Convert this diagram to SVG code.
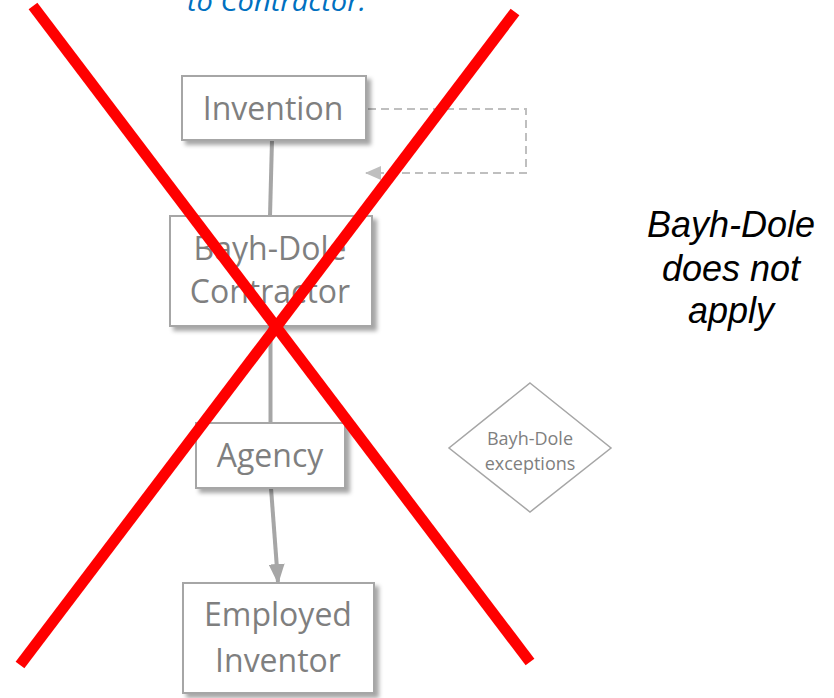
<svg xmlns="http://www.w3.org/2000/svg" width="834" height="698" viewBox="0 0 834 698">
<style>
.box{fill:#fff;stroke:#a6a6a6;stroke-width:2;filter:url(#sh)}
.nt{font-family:"Open Sans","Liberation Sans",sans-serif;font-size:32px;fill:#7f7f7f;text-anchor:middle}
.st{font-family:"Open Sans","Liberation Sans",sans-serif;font-size:18px;fill:#7f7f7f;text-anchor:middle}
.conn{stroke:#a6a6a6;stroke-width:4;fill:none}
.dash{stroke:#bfbfbf;stroke-width:2;fill:none;stroke-dasharray:8 5}
.x{stroke:#ff0000;stroke-width:11;stroke-linecap:butt}
</style>
<defs>
<filter id="sh" x="-20%" y="-20%" width="150%" height="150%">
<feDropShadow dx="4" dy="4" stdDeviation="2" flood-color="#000" flood-opacity="0.35"/>
</filter>
<marker id="ah" markerWidth="5" markerHeight="4" refX="4.5" refY="2" orient="auto" markerUnits="strokeWidth">
<path d="M0,0 L5,2 L0,4 Z" fill="#a6a6a6"/>
</marker>
<marker id="ahd" markerWidth="8" markerHeight="7" refX="7.5" refY="3.5" orient="auto" markerUnits="strokeWidth">
<path d="M0,0 L8,3.5 L0,7 Z" fill="#bfbfbf"/>
</marker>
</defs>
<rect width="834" height="698" fill="#fff"/>
<text x="187" y="11" font-family="'Open Sans','Liberation Sans',sans-serif" font-style="italic" font-size="28" fill="#0070c0" textLength="179" lengthAdjust="spacingAndGlyphs">to Contractor.</text>
<g id="connectors">
<line class="conn" x1="272" y1="140" x2="270" y2="216"/>
<line class="conn" x1="270.5" y1="326" x2="270.5" y2="423"/>
<line class="conn" x1="271" y1="488" x2="278" y2="582" marker-end="url(#ah)"/>
<polyline class="dash" points="368,109 526,109 526,173 366,173" marker-end="url(#ahd)"/>
</g>
<g id="invention">
<rect class="box" x="182" y="76" width="184" height="64"/>
<text class="nt" x="273" y="120">Invention</text>
</g>
<g id="contractor">
<rect class="box" x="170" y="216" width="202" height="110"/>
<text class="nt" x="270" y="260">Bayh-Dole</text>
<text class="nt" x="270" y="303">Contractor</text>
</g>
<g id="agency">
<rect class="box" x="196" y="423" width="149" height="65"/>
<text class="nt" x="270" y="467">Agency</text>
</g>
<g id="employed">
<rect class="box" x="183" y="583" width="191" height="110"/>
<text class="nt" x="278" y="626">Employed</text>
<text class="nt" x="278" y="672">Inventor</text>
</g>
<g id="exceptions">
<polygon points="530,383 611,448 530,512 449,448" fill="#fff" stroke="#a6a6a6" stroke-width="1.5"/>
<text class="st" x="530" y="445">Bayh-Dole</text>
<text class="st" x="530" y="470">exceptions</text>
</g>
<g id="note" font-family="'Liberation Sans',Arial,sans-serif" font-style="italic" font-size="36" fill="#000" text-anchor="middle">
<text x="731" y="237">Bayh-Dole</text>
<text x="731" y="281">does not</text>
<text x="731" y="323">apply</text>
</g>
<g id="cross">
<line class="x" x1="33" y1="6" x2="530" y2="662"/>
<line class="x" x1="515" y1="12" x2="20" y2="665"/>
</g>
</svg>
